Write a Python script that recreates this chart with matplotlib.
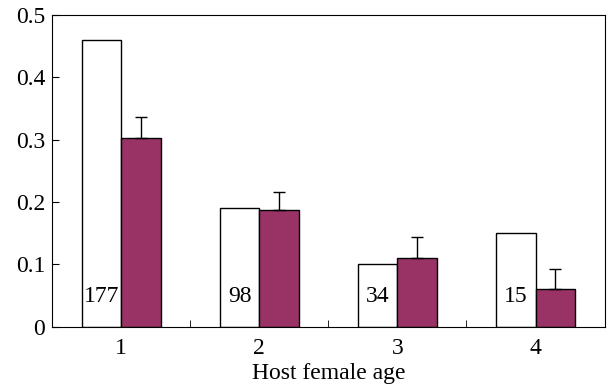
import numpy as np
import matplotlib.pyplot as plt

# values
ages = [1, 2, 3, 4]
observed = [0.46, 0.19, 0.10, 0.15]
predicted = [0.303, 0.188, 0.110, 0.061]
pred_err = [0.034, 0.028, 0.034, 0.032]
counts = ['177', '98', '34', '15']

plt.rcParams['font.family'] = ['Liberation Serif', 'DejaVu Serif']
plt.rcParams['font.size'] = 17

fig = plt.figure(figsize=(6.07, 3.91), dpi=100)
ax = fig.add_axes([0.086, 0.164, 0.910, 0.798])

x = np.array(ages)
w = 0.285
ax.bar(x - w / 2, observed, width=w, color='white', edgecolor='black', linewidth=1)
ax.bar(x + w / 2, predicted, width=w, color='#993366', edgecolor='black', linewidth=1,
       yerr=[np.zeros(len(pred_err)), pred_err], error_kw=dict(ecolor='black', elinewidth=1, capsize=4, capthick=1))

for xi, c in zip(x, counts):
    ax.text(xi - w / 2, 0.049, c, ha='center', va='center', fontsize=17)

ax.set_xlim(0.5, 4.5)
ax.set_ylim(0, 0.5)
ax.set_yticks([0, 0.1, 0.2, 0.3, 0.4, 0.5])
ax.set_yticklabels(['0', '0.1', '0.2', '0.3', '0.4', '0.5'])
ax.set_xticks(ages)
ax.set_xticks([1.5, 2.5, 3.5], minor=True)
ax.tick_params(axis='x', which='major', length=0, pad=8)
ax.tick_params(axis='x', which='minor', direction='in', length=5)
ax.tick_params(axis='y', direction='in', length=5, pad=5)
ax.set_xlabel('Host female age', labelpad=3)

fig.savefig('out.png', dpi=100)
